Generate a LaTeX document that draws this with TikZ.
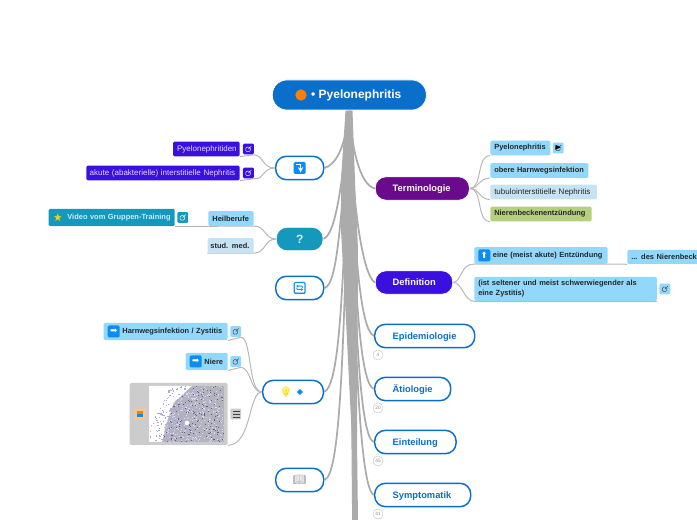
\documentclass[tikz,border=0pt]{standalone}
\usepackage{fontspec}
\setmainfont{Liberation Sans}
\newfontfamily\symfont{DejaVu Sans}
\newfontfamily\emojifont{Noto Emoji}
\usetikzlibrary{positioning, calc, backgrounds, shapes.geometric}
\definecolor{rootblue}{HTML}{0A6FCB}
\definecolor{purplenode}{HTML}{6A0A8C}
\definecolor{violetnode}{HTML}{3A10E0}
\definecolor{tealnode}{HTML}{1499BD}
\definecolor{skyleaf}{HTML}{92D8FC}
\definecolor{paleleaf}{HTML}{C6E3F3}
\definecolor{greenleaf}{HTML}{B4CF7F}
\definecolor{branchgray}{HTML}{ABABAB}
\definecolor{iconblue}{HTML}{0C8CF0}

\begin{document}
\begin{tikzpicture}[
    x=0.75pt, y=-0.75pt,
    topicnode/.style = {shape=rectangle, rounded corners=8pt, font=\bfseries\fontsize{7}{9}\selectfont,
    anchor=west, inner sep=0pt, minimum height=17.5pt, align=left, text height=5.5pt, text depth=.9pt},
    outline/.style = {topicnode, draw=rootblue, line width=1.1pt, fill=white, text=rootblue},
    filled/.style = {topicnode, text=white, draw=white, line width=.5pt},
    leaf/.style = {shape=rectangle, rounded corners=1pt, anchor=east, inner xsep=3pt, inner ysep=0pt, minimum height=11pt,
    font=\bfseries\fontsize{5.6}{7.5}\selectfont, fill=skyleaf, text=black!85, align=left},
    thinleaf/.style = {leaf, font=\fontsize{6}{7.5}\selectfont},
    linkbox/.style = {shape=rectangle, rounded corners=1pt, minimum size=8.2pt, inner sep=0pt, fill=skyleaf,
    path picture={\draw[line width=.35pt, draw=#1]
      ($(path picture bounding box.center)+(-2pt,-2pt)$) rectangle ++(3.4pt,3.4pt)
      ($(path picture bounding box.center)+(0pt,0pt)$) -- ++(2.2pt,2.2pt);}},
    linkbox/.default=black!70,
    emblem/.style = {shape=rectangle, rounded corners=1pt, minimum size=9pt, inner sep=0pt, fill=iconblue, text=white,
    font=\symfont\fontsize{6.5}{7}\selectfont},
    counter/.style = {shape=circle, draw=black!20, fill=white, line width=.4pt, inner sep=0pt, minimum size=7.5pt,
    text=black!45, font=\fontsize{3.6}{4}\selectfont},
    trunk/.style={draw=branchgray, line width=1.3pt},
    twig/.style={draw=branchgray!85, line width=.75pt}]

  \useasboundingbox (0,0) rectangle (697,520);

  % free ends of the branches that leave the page
  \coordinate (low1) at (353,520);
  \coordinate (low2) at (355,520);
  \coordinate (low3) at (357,520);

  \node[filled, fill=rootblue, rounded corners=11pt, minimum width=115.5pt, minimum height=22.5pt] (root) at (272,95) {};
  \node[circle, fill=orange, inner sep=0pt, minimum size=8.5pt] (sun) at (301,95) {};
  \node[right=3pt of sun, text=white, inner sep=0pt, font=\bfseries\fontsize{9}{11}\selectfont] (title) {•\hspace{2.5pt}Pyelonephritis};

  % main topics on the right
  \node[filled, fill=purplenode, text width=70.5pt] (term) at (375,188.5) {\hspace*{13pt}Terminologie};
  \node[filled, fill=violetnode, text width=58pt] (defin) at (375,282.5) {\hspace*{13pt}Definition};
  \node[outline, text width=75pt] (epid) at (374,336) {\hspace*{13.5pt}Epidemiologie};
  \node[outline, text width=57pt] (aetio) at (374,389) {\hspace*{13.5pt}Ätiologie};
  \node[outline, text width=61pt] (eint) at (374,442) {\hspace*{13.5pt}Einteilung};
  \node[outline, text width=72pt] (sympt) at (374,495) {\hspace*{13.5pt}Symptomatik};

  \node[counter] (cnt1) at (378,355) {4};
  \node[counter] (cnt2) at (378,408) {20};
  \node[counter] (cnt3) at (378,461) {45};
  \node[counter] (cnt4) at (378,514) {41};

  % main topics on the left
  \node[outline, minimum width=36pt] (turn) at (275,168) {};
  \node[emblem] (turnmark) at (turn.center) {};
  \draw[white, line width=.8pt, -stealth] (296,164.5) -- (300.5,164.5) -- (300.5,172.5);
  \node[filled, fill=tealnode, minimum width=35pt] (quest) at (276,239) {};
  \node[text=white!85!tealnode, font=\bfseries\fontsize{9}{10}\selectfont, inner sep=0pt] (mark) at (quest.center) {?};
  \node[outline, minimum width=36pt] (renew) at (275,288) {};
  \node[emblem, font=\emojifont\fontsize{7}{7}\selectfont] at (renew.center) {🔄};
  \node[outline, minimum width=45.5pt] (hint) at (262,392) {};
  \node[circle, fill=yellow!45, inner sep=0pt, minimum size=6.5pt] at (286,391) {};
  \node[text=yellow!60!orange, inner sep=0pt, font=\emojifont\fontsize{7.5}{8}\selectfont] (bulb) at (286,392) {💡};
  \node[diamond, fill=iconblue, inner sep=0pt, minimum size=4.5pt, right=3pt of bulb] (gem) {};
  \node[outline, minimum width=36pt] (book) at (275,480) {};
  \node[text=black!45, inner sep=0pt, font=\emojifont\fontsize{8}{9}\selectfont] at (book.center) {📖};

  % leaves of the terminology topic
  \node[leaf, anchor=west, text width=39pt] (t1) at (490,148) {Pyelonephritis};
  \node[linkbox, right=1.5pt of t1] (t1play) {};
  \node[inner sep=0pt, font=\symfont\fontsize{5}{5}\selectfont] at (t1play) {▶};
  \node[leaf, anchor=west, text width=67.5pt] (t2) at (490,170.5) {obere Harnwegsinfektion};
  \node[thinleaf, anchor=west, text width=74pt, fill=paleleaf] (t3) at (490,192) {tubulointerstitielle Nephritis};
  \node[leaf, anchor=west, text width=70pt, fill=greenleaf] (t4) at (490,214) {Nierenbeckenentzündung};

  % leaves of the definition topic
  \node[leaf, anchor=west, text width=94pt, minimum height=12.5pt] (d1) at (474,255.5) {\hspace*{11pt}eine (meist akute) Entzündung};
  \node[emblem, right=3pt of d1.west] {⬆};
  \node[leaf, anchor=west, text width=66pt, minimum height=10.5pt] (d1b) at (627,257) {... des Nierenbeckens};
  \node[leaf, anchor=west, text width=131pt, minimum height=18pt, rounded corners=1.5pt] (d2) at (474,289)
    {(ist seltener und meist schwerwiegender als\\ eine Zystitis)};
  \node[linkbox, right=1.5pt of d2] (d2link) {};

  % leaves on the left
  \node[thinleaf, text width=44pt, fill=violetnode, text=white!85!violetnode] (p1) at (240,149) {Pyelonephritiden};
  \node[linkbox=white, fill=violetnode, right=2pt of p1] (p1link) {};
  \node[thinleaf, inner xsep=2.5pt, text width=110pt, fill=violetnode, text=white!85!violetnode] (p2) at (240,173) {\mbox{akute (abakterielle) interstitielle Nephritis}};
  \node[linkbox=white, fill=violetnode, right=2pt of p2] (p2link) {};

  \node[leaf, text width=88.5pt, minimum height=13pt, fill=tealnode, text=white!80!tealnode] (vid) at (175,217.5) {\hspace*{11pt}Video vom Gruppen-Training};
  \node[text=yellow!70!orange, inner sep=0pt, font=\symfont\fontsize{8}{8}\selectfont] at ($(vid.west)+(9.5,0)$) {★};
  \node[linkbox=white, fill=tealnode, right=1.5pt of vid] (vidlink) {};
  \node[leaf, text width=28pt] (heil) at (254,218.5) {Heilberufe};
  \node[leaf, inner xsep=2pt, text width=30.5pt, fill=paleleaf] (stud) at (254,245.5) {\mbox{stud. med.}};

  \node[leaf, text width=87pt, minimum height=13pt] (harn) at (228,331.5) {\hspace*{11pt}Harnwegsinfektion / Zystitis};
  \node[emblem, right=3pt of harn.west] {➡};
  \node[linkbox, right=1.5pt of harn] (harnlink) {};
  \node[leaf, text width=25.5pt, minimum height=13pt] (niere) at (228,361.5) {\hspace*{11pt}Niere};
  \node[emblem, right=3pt of niere.west] {➡};
  \node[linkbox, right=1.5pt of niere] (nierelink) {};

  \node[leaf, inner sep=0pt, minimum width=73.5pt, minimum height=46.5pt, fill=black!20] (photo) at (228,414) {};
  \fill[blue!8!gray!55] (149,386) rectangle (224,442);
  \pgfmathsetseed{7}
  \foreach \i in {1,...,500} {
    \pgfmathsetmacro{\px}{149+rnd*74}
    \pgfmathsetmacro{\py}{386+rnd*55}
    \fill[white!85!blue] (\px,\py) rectangle ++(1,1);
  }
  \foreach \i in {1,...,220} {
    \pgfmathsetmacro{\px}{149+rnd*74}
    \pgfmathsetmacro{\py}{386+rnd*55}
    \fill[red!30!blue!30!gray] (\px,\py) rectangle ++(1,1);
  }
  \fill[white] (149,386) -- (192,386) -- (174,402) -- (166,424) -- (162,442) -- (149,442) -- cycle;
  \foreach \i in {1,...,260} {
    \pgfmathsetmacro{\px}{149+rnd*45}
    \pgfmathsetmacro{\py}{386+rnd*55}
    \pgfmathtruncatemacro{\inzone}{\px > 170-(\py-386)*0.5 ? 1 : 0}
    \ifnum\inzone=1 \fill[blue!30!gray!50] (\px,\py) rectangle ++(1.2,1.2); \fi
  }
  \node[circle, fill=white, inner sep=0pt, minimum size=3.5pt] (spot) at (187,423) {};
  \node[shape=rectangle, rounded corners=1pt, fill=orange!45, inner sep=0pt, minimum size=8pt] (picmark) at (140,414) {};
  \fill[iconblue] (137,414) rectangle (143,417);
  \fill[orange] (137,411.5) rectangle (143,414);
  \node[shape=rectangle, rounded corners=1pt, fill=black!20, inner sep=0pt, minimum size=8.2pt, right=1.5pt of photo] (menu) {};
  \draw[black!75, line width=.45pt] (232.5,411) -- (239.5,411) (232.5,414) -- (239.5,414) (232.5,417) -- (239.5,417);

  \begin{scope}[on background layer]
  % trunk
  \foreach \target in {low1,low2,low3} {
    \draw[trunk] ($(root.south)+(1,0)$) .. controls (350,230) and (352,400) .. (\target);
  }
  \fill[branchgray] (345.5,110.5) -- (352.5,110.5) -- (355,180) -- (358,250) -- (357,440) -- (358,520) -- (353,520) -- (352,440) -- (346,320) -- (341,230) -- (341,180) -- cycle;

  \draw[trunk] (root.south) .. controls (345,150) and (335,165) .. (turn.east);
  \draw[trunk] (root.south) .. controls (342,190) and (335,235) .. (quest.east);
  \draw[trunk] (root.south) .. controls (341,215) and (338,285) .. (renew.east);
  \draw[trunk] (root.south) .. controls (343,290) and (340,385) .. (hint.east);
  \draw[trunk] (root.south) .. controls (344,360) and (340,475) .. (book.east);
  \draw[trunk] (root.south) .. controls (352,150) and (360,185) .. (term.west);
  \draw[trunk] (root.south) .. controls (352,200) and (362,275) .. (defin.west);
  \draw[trunk] (root.south) .. controls (354,250) and (360,330) .. (epid.west);
  \draw[trunk] (root.south) .. controls (354,290) and (360,385) .. (aetio.west);
  \draw[trunk] (root.south) .. controls (354,320) and (360,440) .. (eint.west);
  \draw[trunk] (root.south) .. controls (354,350) and (360,490) .. (sympt.west);

  \draw[twig] (term.east) .. controls (483,188) and (476,156) .. (t1.south west);
  \draw[twig] (term.east) .. controls (480,188) and (478,178) .. (t2.south west);
  \draw[twig] (term.east) .. controls (480,188) and (478,199) .. (t3.south west);
  \draw[twig] (term.east) .. controls (483,188) and (476,221) .. (t4.south west);
  \draw[twig] (defin.east) .. controls (462,282) and (460,264) .. (d1.south west) -- (d1.south east) -- (d1b.south west);
  \draw[twig] (defin.east) .. controls (462,282) and (464,301) .. (d2.south west) -- (d2.south east);

  \draw[twig] (turn.west) .. controls (262,168) and (264,156) .. (p1link.south east) -- (p1.south east);
  \draw[twig] (turn.west) .. controls (262,168) and (264,180) .. (p2link.south east) -- (p2.south east);
  \draw[twig] (quest.west) .. controls (264,239) and (266,226) .. (heil.south east) -- (vid.south east);
  \draw[twig] (quest.west) .. controls (264,239) and (266,253) .. (stud.south east) -- (stud.south west);
  \draw[twig] (hint.west) .. controls (248,392) and (252,340) .. (harnlink.south east) -- (harn.south east);
  \draw[twig] (hint.west) .. controls (250,392) and (252,370) .. (nierelink.south east) -- (niere.south east);
  \draw[twig] (hint.west) .. controls (248,392) and (252,445) .. (photo.south east);
  \end{scope}

\end{tikzpicture}
\end{document}
